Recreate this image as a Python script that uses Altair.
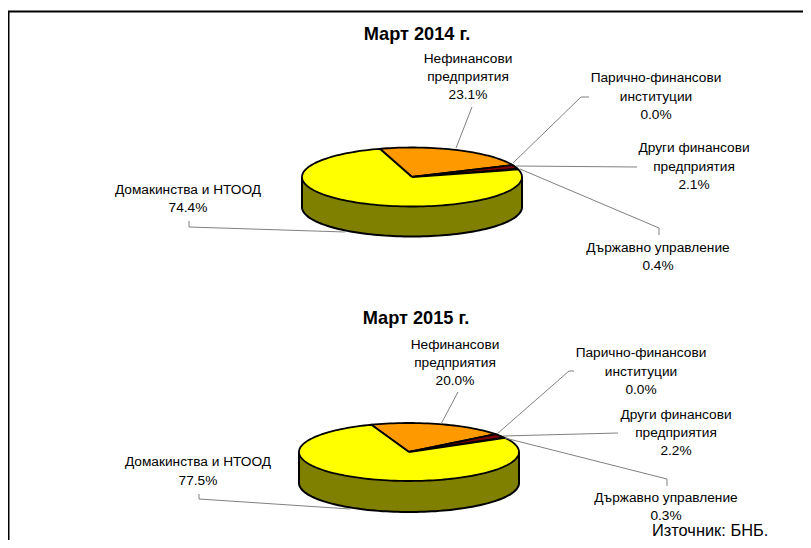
import math
import altair as alt
import pandas as pd

# ---- chart values ----
categories = ["Нефинансови предприятия", "Парично-финансови институции",
              "Други финансови предприятия", "Държавно управление", "Домакинства и НТООД"]
shares_2014 = [23.1, 0.0, 2.1, 0.4, 74.4]
shares_2015 = [20.0, 0.0, 2.2, 0.3, 77.5]
titles = ["Март 2014 г.", "Март 2015 г."]
source_text = "Източник: БНБ."

# ---- styles ----
slice_colors = ["#FF9900", "#993300", "#800000", "#330000", "#FFFF00"]
side_color = "#808000"
FONT = "Liberation Sans"

# ---- layout (canvas pixels) ----
pies = [
    dict(shares=shares_2014, cx=412, cy=177, rx=110, ry=29.5, depth=30, start=-17,
         title=(417, 35),
         labels=[(468, 59, 18, 3), (656, 78, 18.5, 3), (694, 148, 18.5, 3), (658, 248, 18, 2), (188, 190, 18, 2)],
         leaders=[[(456, 148), (472, 107)], [(513, 163), (581, 97), (589, 97)],
                  [(516, 166), (637, 167)], [(520, 169), (659, 228), (659, 235)],
                  [(345, 232), (189, 227), (189, 221)]]),
    dict(shares=shares_2015, cx=409, cy=452, rx=110, ry=29, depth=31, start=-20,
         title=(416, 319),
         labels=[(455, 345, 18, 3), (641, 353, 18.5, 3), (676, 415, 18, 3), (666, 498, 18, 2), (198, 462, 18.5, 2)],
         leaders=[[(441, 424), (458, 392)], [(497, 434), (569, 371), (574, 371)],
                  [(503, 436), (618, 433)], [(505, 438), (667, 479), (667, 486)],
                  [(350, 509), (199, 499), (199, 494)]]),
]

W, H = 795, 532
X = alt.X("x:Q", scale=alt.Scale(domain=[8, 8 + W], nice=False, zero=False), axis=None)
Y = alt.Y("y:Q", scale=alt.Scale(domain=[8 + H, 8], nice=False, zero=False), axis=None)


def pt(p, deg):
    a = math.radians(deg)
    return p["cx"] + p["rx"] * math.sin(a), p["cy"] - p["ry"] * math.cos(a)


layers = []
line_rows, text_rows = [], []

# frame
frame = pd.DataFrame({"x": [8.5, 8.5, 803], "y": [540, 11.5, 11.5], "o": [0, 1, 2]})
layers.append(alt.Chart(frame).mark_line(color="#000000", strokeWidth=2).encode(X, Y, order="o:Q"))

for pi, p in enumerate(pies):
    # side wall
    side = []
    for i in range(0, 91):
        d = 90 + 2 * i
        x, y = pt(p, d)
        side.append(dict(x=x, y=y, y2=y + p["depth"]))
    side_df = pd.DataFrame(side).sort_values("x")
    layers.append(alt.Chart(side_df).mark_area(color=side_color, opacity=1).encode(
        X, Y, alt.Y2("y2:Q")))
    rim = [dict(x=side_df.x.iloc[0], y=side_df.y.iloc[0], o=-1)]
    rim += [dict(x=r.x, y=r.y2, o=i) for i, r in enumerate(side_df.itertuples())]
    rim += [dict(x=side_df.x.iloc[-1], y=side_df.y.iloc[-1], o=1000)]
    layers.append(alt.Chart(pd.DataFrame(rim)).mark_line(color="#000000", strokeWidth=2).encode(
        X, Y, order="o:Q"))

    # slices, clockwise from the start angle
    ang = p["start"]
    for si, share in enumerate(p["shares"]):
        if share <= 0:
            continue
        span = share * 3.6
        n = max(2, int(span / 2))
        pts = [(p["cx"], p["cy"])] + [pt(p, ang + span * k / n) for k in range(n + 1)] + [(p["cx"], p["cy"])]
        df = pd.DataFrame({"x": [q[0] for q in pts], "y": [q[1] for q in pts], "o": list(range(len(pts)))})
        layers.append(alt.Chart(df).mark_line(
            fill=slice_colors[si], stroke="#000000", strokeWidth=1.8 if share > 1 else 1,
            strokeJoin="round").encode(X, Y, order="o:Q"))
        ang += span

    # leaders
    for li, lead in enumerate(p["leaders"]):
        for k, (x, y) in enumerate(lead):
            line_rows.append(dict(x=x, y=y, k=k, g=f"{pi}-{li}"))

    # labels
    for si, (lx, ly, step, nlines) in enumerate(p["labels"]):
        name = categories[si]
        value = f'{p["shares"][si]:.1f}%'
        if nlines == 3:
            a, b = name.rsplit(" ", 1)
            rows = [a, b, value]
        else:
            rows = [name, value]
        for k, t in enumerate(rows):
            text_rows.append(dict(x=lx, y=ly + k * step, t=t))

layers.append(alt.Chart(pd.DataFrame(line_rows)).mark_line(color="#808080", strokeWidth=1).encode(
    X, Y, detail="g:N", order="k:Q"))
layers.append(alt.Chart(pd.DataFrame(text_rows)).mark_text(
    font=FONT, fontSize=13.7, color="#000000", align="center", baseline="middle").encode(X, Y, text="t:N"))

title_df = pd.DataFrame([dict(x=p["title"][0], y=p["title"][1], t=t) for p, t in zip(pies, titles)])
layers.append(alt.Chart(title_df).mark_text(
    font=FONT, fontSize=18.2, fontWeight="bold", color="#000000", align="center", baseline="middle"
).encode(X, Y, text="t:N"))

src_df = pd.DataFrame([dict(x=652, y=530.5, t=source_text)])
layers.append(alt.Chart(src_df).mark_text(
    font=FONT, fontSize=16.4, color="#000000", align="left", baseline="middle"
).encode(X, Y, text="t:N"))

chart = alt.layer(*layers).properties(
    width=W, height=H, padding=0, autosize=alt.AutoSizeParams(type="none"), background="#FFFFFF"
).configure_view(stroke=None)

chart.save("out.html", embed_options={"renderer": "svg", "actions": False})
